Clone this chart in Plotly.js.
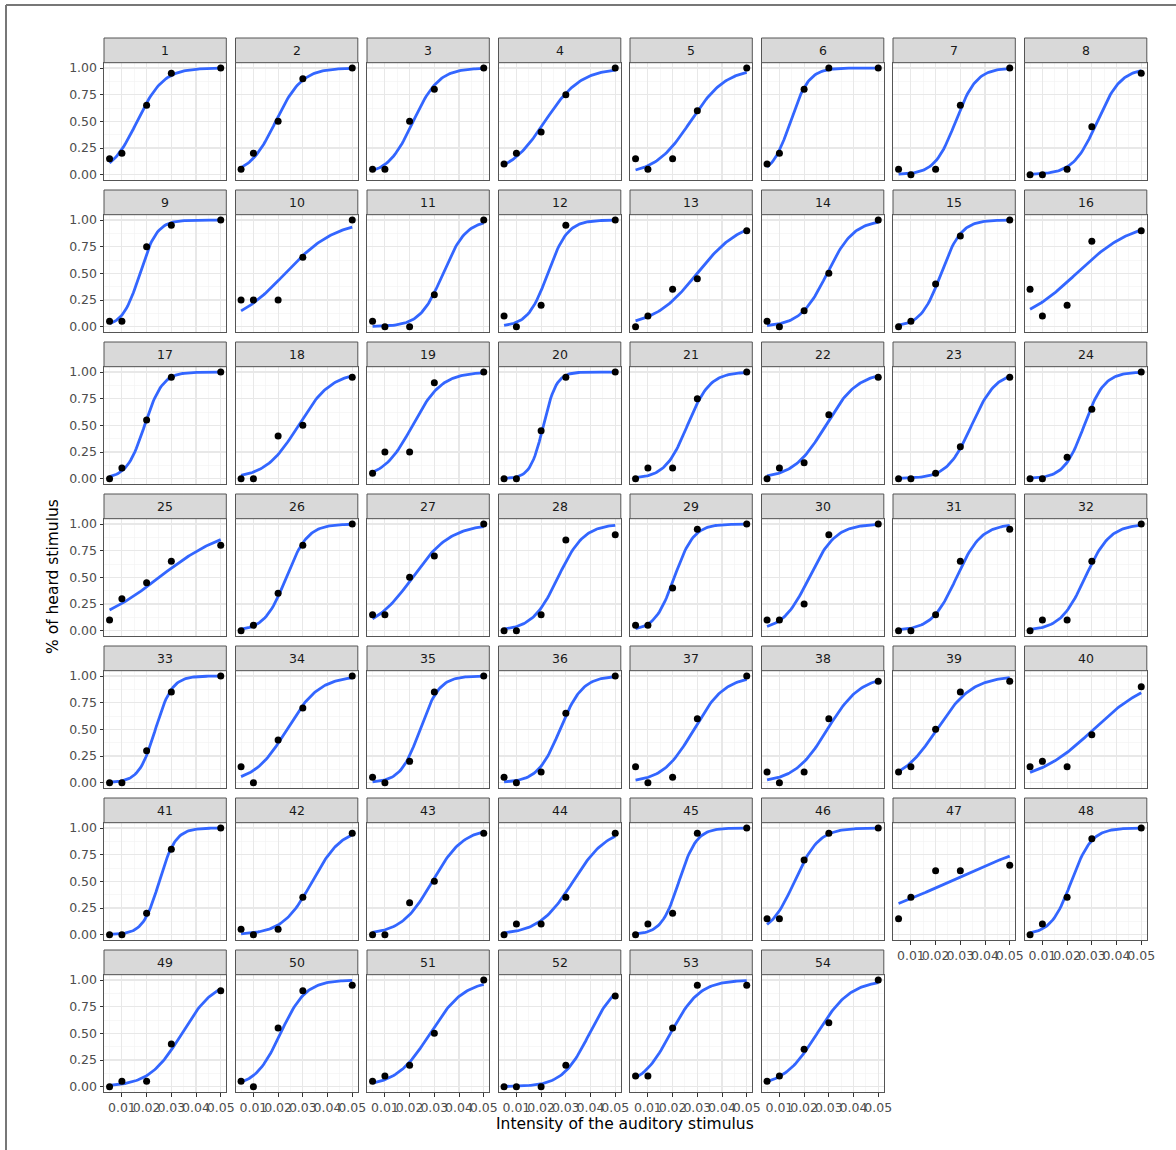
<!DOCTYPE html>
<html>
<head>
<meta charset="utf-8">
<script src="https://cdn.plot.ly/plotly-3.0.1.min.js"></script>
<style>html,body{margin:0;padding:0;background:#fff;}</style>
</head>
<body>
<div id="chart" style="width:1176px;height:1150px;"></div>
<script>
// ---------- data ----------
const intensity = [0.005, 0.01, 0.02, 0.03, 0.05];

const panelLabels = ['1','2','3','4','5','6','7','8','9','10','11','12','13','14','15','16','17','18',
  '19','20','21','22','23','24','25','26','27','28','29','30','31','32','33','34','35','36',
  '37','38','39','40','41','42','43','44','45','46','47','48','49','50','51','52','53','54'];

// proportion of heard stimulus, one row per participant, in the order of `intensity`
const heard = [
  [0.15,0.20,0.65,0.95,1.00], [0.05,0.20,0.50,0.90,1.00], [0.05,0.05,0.50,0.80,1.00], [0.10,0.20,0.40,0.75,1.00],
  [0.15,0.05,0.15,0.60,1.00], [0.10,0.20,0.80,1.00,1.00], [0.05,0.00,0.05,0.65,1.00], [0.00,0.00,0.05,0.45,0.95],
  [0.05,0.05,0.75,0.95,1.00], [0.25,0.25,0.25,0.65,1.00], [0.05,0.00,0.00,0.30,1.00], [0.10,0.00,0.20,0.95,1.00],
  [0.00,0.10,0.35,0.45,0.90], [0.05,0.00,0.15,0.50,1.00], [0.00,0.05,0.40,0.85,1.00], [0.35,0.10,0.20,0.80,0.90],
  [0.00,0.10,0.55,0.95,1.00], [0.00,0.00,0.40,0.50,0.95], [0.05,0.25,0.25,0.90,1.00], [0.00,0.00,0.45,0.95,1.00],
  [0.00,0.10,0.10,0.75,1.00], [0.00,0.10,0.15,0.60,0.95], [0.00,0.00,0.05,0.30,0.95], [0.00,0.00,0.20,0.65,1.00],
  [0.10,0.30,0.45,0.65,0.80], [0.00,0.05,0.35,0.80,1.00], [0.15,0.15,0.50,0.70,1.00], [0.00,0.00,0.15,0.85,0.90],
  [0.05,0.05,0.40,0.95,1.00], [0.10,0.10,0.25,0.90,1.00], [0.00,0.00,0.15,0.65,0.95], [0.00,0.10,0.10,0.65,1.00],
  [0.00,0.00,0.30,0.85,1.00], [0.15,0.00,0.40,0.70,1.00], [0.05,0.00,0.20,0.85,1.00], [0.05,0.00,0.10,0.65,1.00],
  [0.15,0.00,0.05,0.60,1.00], [0.10,0.00,0.10,0.60,0.95], [0.10,0.15,0.50,0.85,0.95], [0.15,0.20,0.15,0.45,0.90],
  [0.00,0.00,0.20,0.80,1.00], [0.05,0.00,0.05,0.35,0.95], [0.00,0.00,0.30,0.50,0.95], [0.00,0.10,0.10,0.35,0.95],
  [0.00,0.10,0.20,0.95,1.00], [0.15,0.15,0.70,0.95,1.00], [0.15,0.35,0.60,0.60,0.65], [0.00,0.10,0.35,0.90,1.00],
  [0.00,0.05,0.05,0.40,0.90], [0.05,0.00,0.55,0.90,0.95], [0.05,0.10,0.20,0.50,1.00], [0.00,0.00,0.00,0.20,0.85],
  [0.10,0.10,0.55,0.95,0.95], [0.05,0.10,0.35,0.60,1.00]
];

const xTickVals = [0.01, 0.02, 0.03, 0.04, 0.05];
const xTickText = ['0.01', '0.02', '0.03', '0.04', '0.05'];
const yTickVals = [0, 0.25, 0.5, 0.75, 1];
const yTickText = ['0.00', '0.25', '0.50', '0.75', '1.00'];

// ---------- logistic (binomial GLM) fit, like geom_smooth(method = "glm") ----------
function fitLogit(x, y) {
  const xs = x.map(v => v * 100);
  let mu = y.map(v => (v + 0.5) / 2);
  let eta = mu.map(m => Math.log(m / (1 - m)));
  let b0 = 0, b1 = 0;
  for (let it = 0; it < 60; it++) {
    const w = mu.map(m => Math.max(m * (1 - m), 1e-10));
    const z = eta.map((e, i) => e + (y[i] - mu[i]) / w[i]);
    let sw = 0, swx = 0, swxx = 0, swz = 0, swxz = 0;
    for (let i = 0; i < xs.length; i++) {
      sw += w[i]; swx += w[i] * xs[i]; swxx += w[i] * xs[i] * xs[i];
      swz += w[i] * z[i]; swxz += w[i] * xs[i] * z[i];
    }
    const det = sw * swxx - swx * swx;
    b1 = (sw * swxz - swx * swz) / det;
    b0 = (swz - b1 * swx) / sw;
    eta = xs.map(v => b0 + b1 * v);
    mu = eta.map(e => 1 / (1 + Math.exp(-e)));
  }
  return v => 1 / (1 + Math.exp(-(b0 + b1 * v * 100)));
}

// ---------- layout geometry (pixels) ----------
const W = 1176, H = 1150;
const colX0 = 104, colStep = 131.5, panelW = 122.3;
const rowY0 = 38, rowStep = 152, stripH = 24.7, plotH = 117.3;
const px = v => v / W;
const py = v => 1 - v / H;

const traces = [];
const layout = {
  width: W, height: H,
  margin: {l: 0, r: 0, t: 0, b: 0},
  paper_bgcolor: '#ffffff',
  plot_bgcolor: '#ffffff',
  showlegend: false,
  font: {family: 'DejaVu Sans, sans-serif', color: '#4D4D4D', size: 12.5},
  shapes: [],
  annotations: []
};

const nPanels = heard.length;
const nCols = 8;

for (let i = 0; i < nPanels; i++) {
  const col = i % nCols, row = Math.floor(i / nCols);
  const k = i === 0 ? '' : String(i + 1);
  const left = colX0 + col * colStep, right = left + panelW;
  const stripTop = rowY0 + row * rowStep;
  const top = stripTop + stripH, bottom = top + plotH;
  const isBottom = (i + nCols >= nPanels);
  const isLeft = col === 0;

  const f = fitLogit(intensity, heard[i]);
  const xmin = Math.min(...intensity), xmax = Math.max(...intensity);
  const cx = [], cy = [];
  for (let j = 0; j < 80; j++) {
    const v = xmin + (xmax - xmin) * j / 79;
    cx.push(v); cy.push(f(v));
  }
  traces.push({
    type: 'scatter', mode: 'lines', x: cx, y: cy,
    xaxis: 'x' + k, yaxis: 'y' + k,
    line: {color: '#3366FF', width: 2.8}, hoverinfo: 'skip'
  });
  traces.push({
    type: 'scatter', mode: 'markers', x: intensity, y: heard[i],
    xaxis: 'x' + k, yaxis: 'y' + k,
    marker: {color: '#000000', size: 7}, cliponaxis: false
  });

  layout['xaxis' + k] = {
    domain: [px(left), px(right)],
    anchor: 'y' + k,
    range: [0.00275, 0.05225],
    tickmode: 'array', tickvals: xTickVals, ticktext: xTickText,
    tickangle: 0,
    showticklabels: isBottom,
    ticks: isBottom ? 'outside' : '', ticklen: 3.5, tickwidth: 1, tickcolor: '#333333',
    tickfont: {family: 'DejaVu Sans, sans-serif', size: 12.5, color: '#4D4D4D'},
    showgrid: true, gridcolor: '#E8E8E8', gridwidth: 1.1,
    minor: {tickvals: [0.005, 0.015, 0.025, 0.035, 0.045], showgrid: true, gridcolor: '#F2F2F2', gridwidth: 0.6, ticks: ''},
    zeroline: false,
    showline: true, mirror: true, linecolor: '#555555', linewidth: 1,
    fixedrange: true
  };
  layout['yaxis' + k] = {
    domain: [py(bottom), py(top)],
    anchor: 'x' + k,
    range: [-0.05, 1.05],
    tickmode: 'array', tickvals: yTickVals, ticktext: yTickText,
    tickangle: 0,
    showticklabels: isLeft,
    ticks: isLeft ? 'outside' : '', ticklen: 3.5, tickwidth: 1, tickcolor: '#333333',
    tickfont: {family: 'DejaVu Sans, sans-serif', size: 12.5, color: '#4D4D4D'},
    showgrid: true, gridcolor: '#E8E8E8', gridwidth: 1.1,
    minor: {tickvals: [0.125, 0.375, 0.625, 0.875], showgrid: true, gridcolor: '#F2F2F2', gridwidth: 0.6, ticks: ''},
    zeroline: false,
    showline: true, mirror: true, linecolor: '#555555', linewidth: 1,
    fixedrange: true
  };

  // facet strip
  layout.shapes.push({
    type: 'rect', xref: 'paper', yref: 'paper',
    x0: px(left), x1: px(right), y0: py(top), y1: py(stripTop),
    fillcolor: '#D9D9D9', line: {color: '#555555', width: 1}, layer: 'above'
  });
  layout.annotations.push({
    xref: 'paper', yref: 'paper', x: px((left + right) / 2), y: py(stripTop + stripH / 2),
    text: panelLabels[i], showarrow: false, xanchor: 'center', yanchor: 'middle',
    font: {family: 'DejaVu Sans, sans-serif', size: 12.5, color: '#1A1A1A'}
  });
}

// axis titles
layout.annotations.push({
  xref: 'paper', yref: 'paper', x: px(625), y: py(1124),
  text: 'Intensity of the auditory stimulus', showarrow: false,
  xanchor: 'center', yanchor: 'middle',
  font: {family: 'DejaVu Sans, sans-serif', size: 15.5, color: '#000000'}
});
layout.annotations.push({
  xref: 'paper', yref: 'paper', x: px(53), y: py(577),
  text: '% of heard stimulus', showarrow: false, textangle: -90,
  xanchor: 'center', yanchor: 'middle',
  font: {family: 'DejaVu Sans, sans-serif', size: 15.5, color: '#000000'}
});

// outer frame (top and left edges)
layout.shapes.push({type: 'line', xref: 'paper', yref: 'paper', x0: px(6), x1: 1, y0: py(5), y1: py(5), line: {color: '#777777', width: 2}});
layout.shapes.push({type: 'line', xref: 'paper', yref: 'paper', x0: px(6), x1: px(6), y0: py(5), y1: 0, line: {color: '#777777', width: 2}});

Plotly.newPlot('chart', traces, layout, {displayModeBar: false, staticPlot: true});
</script>
</body>
</html>
